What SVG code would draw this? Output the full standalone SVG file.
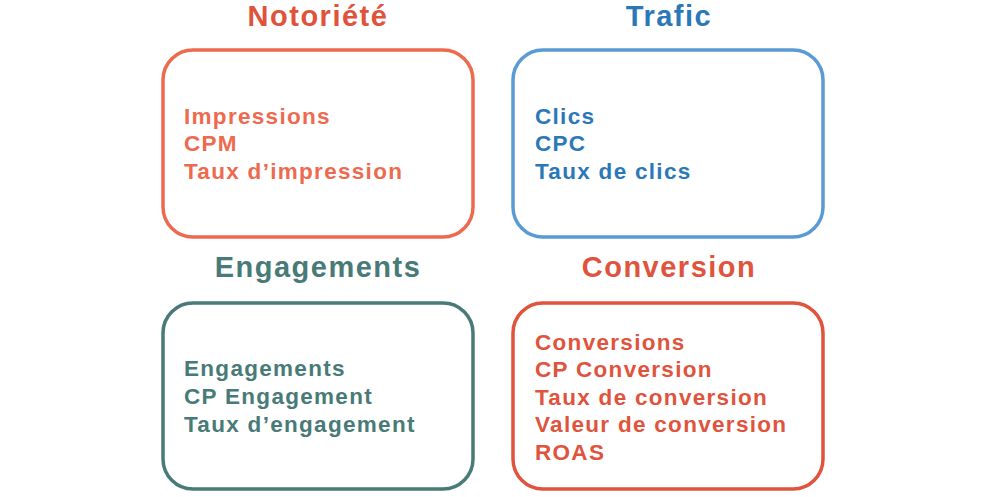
<svg xmlns="http://www.w3.org/2000/svg" width="997" height="497" viewBox="0 0 997 497">
<style>
  .box{fill:#fff;stroke-width:3.5}
  .t{font-family:"Liberation Sans",Arial,sans-serif;font-weight:700;font-size:29px;letter-spacing:1.5px;text-anchor:middle}
  .m{font-family:"Liberation Sans",Arial,sans-serif;font-weight:700;font-size:22.5px;letter-spacing:1.3px}
</style>
<rect width="997" height="497" fill="#fff"/>
<g id="notoriete">
  <text class="t" x="318" y="26" fill="#E0533A">Notoriété</text>
  <rect class="box" x="163" y="50" width="310" height="187" rx="30" stroke="#EE6A4F"/>
  <g class="m" fill="#EE6A4F">
    <text x="184" y="124">Impressions</text>
    <text x="184" y="151">CPM</text>
    <text x="184" y="179">Taux d’impression</text>
  </g>
</g>
<g id="trafic">
  <text class="t" x="669" y="26" fill="#2B78B8">Trafic</text>
  <rect class="box" x="513" y="50" width="310" height="187" rx="30" stroke="#5B9BD5"/>
  <g class="m" fill="#2B78B8">
    <text x="535" y="124">Clics</text>
    <text x="535" y="151">CPC</text>
    <text x="535" y="179">Taux de clics</text>
  </g>
</g>
<g id="engagements">
  <text class="t" x="318" y="277" fill="#487A78">Engagements</text>
  <rect class="box" x="163" y="303" width="310" height="186" rx="30" stroke="#487A78"/>
  <g class="m" fill="#487A78">
    <text x="184" y="376">Engagements</text>
    <text x="184" y="404">CP Engagement</text>
    <text x="184" y="432">Taux d’engagement</text>
  </g>
</g>
<g id="conversion">
  <text class="t" x="669" y="277" fill="#E0533D">Conversion</text>
  <rect class="box" x="513" y="303" width="310" height="186" rx="30" stroke="#E0533D"/>
  <g class="m" fill="#E0533D">
    <text x="535" y="350">Conversions</text>
    <text x="535" y="377">CP Conversion</text>
    <text x="535" y="405">Taux de conversion</text>
    <text x="535" y="432">Valeur de conversion</text>
    <text x="535" y="460">ROAS</text>
  </g>
</g>
<g id="connectors"/>
</svg>
